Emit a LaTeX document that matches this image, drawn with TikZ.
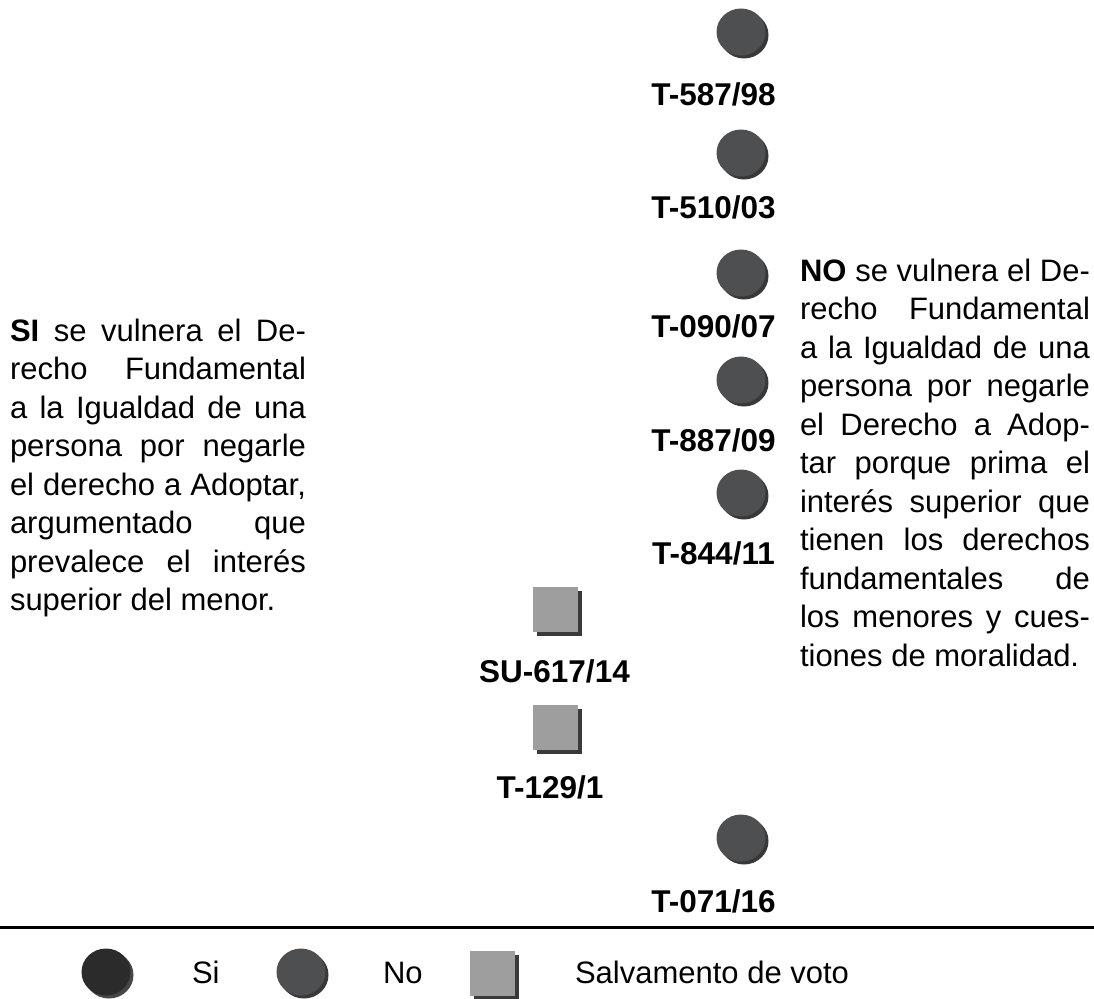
\documentclass[tikz,border=0pt]{standalone}
\usepackage{fontspec}
\setmainfont{Liberation Sans}
\usetikzlibrary{shapes.geometric,shadows}
\definecolor{nofill}{HTML}{4E4F51}
\definecolor{noshadow}{HTML}{383838}
\definecolor{sifill}{HTML}{2B2B2B}
\definecolor{sishadow}{HTML}{474747}
\definecolor{svfill}{HTML}{9E9E9E}
\definecolor{svshadow}{HTML}{3A3A3A}
\tolerance=10000
\hyphenpenalty=10000
\begin{document}
\begin{tikzpicture}[x=1pt,y=-1pt,
  every node/.style={inner sep=0pt, outer sep=0pt},
  nodot/.style={ellipse, minimum width=49pt, minimum height=47pt, fill=nofill,
    general shadow={shadow xshift=3pt, shadow yshift=-3pt, fill=noshadow}},
  sidot/.style={ellipse, minimum width=49pt, minimum height=47pt, fill=sifill,
    general shadow={shadow xshift=3pt, shadow yshift=-3pt, fill=sishadow}},
  svbox/.style={rectangle, minimum size=45pt, fill=svfill,
    general shadow={shadow xshift=4pt, shadow yshift=-4pt, fill=svshadow}},
  lab/.style={anchor=base, font=\fontsize{31.5}{36}\selectfont\bfseries},
  legtext/.style={anchor=base west, font=\fontsize{31}{36}\selectfont},
  para/.style={anchor=north west, align=justify, font=\fontsize{31}{38.5}\selectfont}]
\useasboundingbox (0,0) rectangle (1094,998);

\node[nodot] (c1) at (741,32) {};
\node[lab] (l1) at (713.5,105) {T-587/98};
\node[nodot] (c2) at (741,153) {};
\node[lab] (l2) at (713.5,218) {T-510/03};
\node[nodot] (c3) at (741,273) {};
\node[lab] (l3) at (713.5,337) {T-090/07};
\node[nodot] (c4) at (741,380) {};
\node[lab] (l4) at (713.5,451) {T-887/09};
\node[nodot] (c5) at (741,493) {};
\node[lab] (l5) at (713.5,564) {T-844/11};
\node[svbox] (s1) at (555.5,609.5) {};
\node[lab] (l6) at (554.5,682) {SU-617/14};
\node[svbox] (s2) at (555.5,727.5) {};
\node[lab] (l7) at (550,798) {T-129/1};
\node[nodot] (c6) at (741,838) {};
\node[lab] (l8) at (713.5,912) {T-071/16};

\node[para, text width=296pt] (left) at (10,319) {\textbf{SI} se vulnera el De-\linebreak recho Fundamental\linebreak a la Igualdad de una\linebreak persona por negarle\linebreak el derecho a Adoptar,\linebreak argumentado que\linebreak prevalece el interés\linebreak superior del menor.};

\node[para, text width=290pt] (right) at (800,259) {\textbf{NO} se vulnera el De-\linebreak recho Fundamental\linebreak a la Igualdad de una\linebreak persona por negarle\linebreak el Derecho a Adop-\linebreak tar porque prima el\linebreak interés superior que\linebreak tienen los derechos\linebreak fundamentales de\linebreak los menores y cues-\linebreak tiones de moralidad.};

\coordinate (rl) at (0,927);
\coordinate (rr) at (1094,927);
\draw[line width=3pt] (rl) -- (rr);

\node[sidot] (k1) at (106,972) {};
\node[legtext] (t1) at (192,983) {Si};
\node[nodot] (k2) at (301,972) {};
\node[legtext] (t2) at (383,983) {No};
\node[svbox] (k3) at (492.5,973.5) {};
\node[legtext] (t3) at (575,983) {Salvamento de voto};
\end{tikzpicture}
\end{document}
